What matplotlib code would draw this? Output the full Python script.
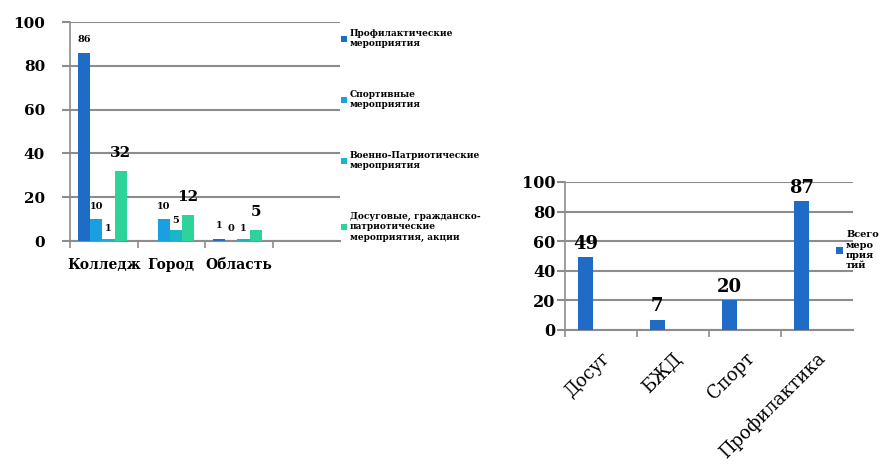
import numpy as np
import matplotlib.pyplot as plt

plt.rcParams.update({'font.family': 'DejaVu Serif', 'font.weight': 'bold'})

# ---------------- данные ----------------
left_cats = ['Колледж', 'Город', 'Область']
left_series = ['Профилактические\nмероприятия',
               'Спортивные\nмероприятия',
               'Военно-Патриотические\nмероприятия',
               'Досуговые, гражданско-\nпатриотические\nмероприятия, акции']
prof = [86, np.nan, 1]
sport = [10, 10, 0]
voen = [1, 5, 1]
dosug = [32, 12, 5]

right_cats = ['Досуг', 'БЖД', 'Спорт', 'Профилактика']
right_vals = [49, 7, 20, 87]
right_label = 'Всего\nмеро\nприя\nтий'

colors = ['#1f6cc7', '#1a9fe0', '#1bb5c8', '#2ed39a']
grid_c = '#8c8c8c'


def style_ax(ax, n, ypad):
    ax.set_ylim(0, 100)
    ax.set_yticks(np.arange(0, 101, 20))
    ax.set_xlim(-0.5, n - 0.5)
    ax.set_xticks(np.arange(n))
    ax.set_xticks(np.arange(n) - 0.5, minor=True)
    ax.grid(axis='y', color=grid_c, lw=1.5, zorder=0)
    ax.set_axisbelow(True)
    for s in ['top', 'right']:
        ax.spines[s].set_visible(False)
    ax.spines['left'].set_color(grid_c)
    ax.spines['bottom'].set_color(grid_c)
    ax.spines['left'].set_linewidth(1.2)
    ax.spines['bottom'].set_linewidth(1.5)
    ax.tick_params(axis='y', length=6, color=grid_c, width=1.5, labelsize=11, pad=ypad)
    ax.tick_params(axis='x', which='major', length=0)
    ax.tick_params(axis='x', which='minor', length=5, color=grid_c, width=1.2)


fig = plt.figure(figsize=(8.91, 4.75), dpi=100)

# ---------------- левая диаграмма ----------------
ax0 = fig.add_axes([0.0786, 0.4926, 0.303, 0.461])
n0 = 4
x = np.arange(len(left_cats))
w = 0.18
all_vals = [prof, sport, voen, dosug]
sizes = [7, 7, 7, 11]
offs = [6, 6, 4, 8]
for i, vals in enumerate(all_vals):
    pos = x + (i - 1.5) * w - 0.02
    ax0.bar(pos, vals, w, color=colors[i], label=left_series[i], zorder=3)
    for px, v in zip(pos, vals):
        if np.isnan(v):
            continue
        ax0.annotate('%d' % v, (px, v), xytext=(0, offs[i]), textcoords='offset points',
                     ha='center', va='bottom', fontsize=sizes[i])
style_ax(ax0, n0, 12)
ax0.set_xticks(x)
ax0.set_xticklabels(left_cats, fontsize=10)
ax0.tick_params(axis='x', which='major', pad=12)
ax0.legend(loc='upper left', bbox_to_anchor=(0.99, 0.985), frameon=False,
           fontsize=6.5, handlelength=0.7, handleheight=0.7, handletextpad=0.3,
           labelspacing=4.6, borderaxespad=0)

# ---------------- правая диаграмма ----------------
ax1 = fig.add_axes([0.634, 0.3053, 0.323, 0.3116])
xr = np.arange(len(right_cats))
posr = xr - 0.215
ax1.bar(posr, right_vals, 0.21, color=colors[0], label=right_label, zorder=3)
for px, v in zip(posr, right_vals):
    ax1.annotate('%d' % v, (px, v), xytext=(0, 3), textcoords='offset points',
                 ha='center', va='bottom', fontsize=13)
style_ax(ax1, len(right_cats), 1)
ax1.tick_params(axis='y', labelsize=11.5)
ax1.set_xticklabels(right_cats, rotation=45, ha='right', rotation_mode='anchor',
                    fontsize=13, fontweight='normal')
ax1.tick_params(axis='x', which='major', pad=14)
ax1.legend(loc='upper left', bbox_to_anchor=(0.93, 0.7), frameon=False,
           fontsize=7, handlelength=0.7, handleheight=0.7, handletextpad=0.3,
           borderaxespad=0)

plt.savefig('out.png', dpi=100)
